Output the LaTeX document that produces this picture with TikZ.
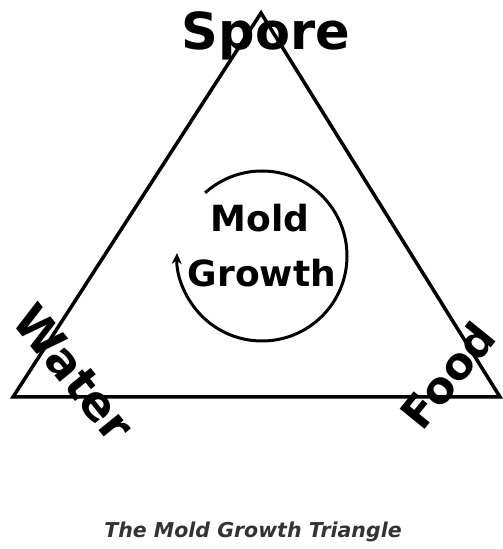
\documentclass[tikz,border=0pt]{standalone}
\usepackage{fontspec}
\setmainfont{DejaVu Sans}
\usetikzlibrary{arrows.meta,calc}
\begin{document}
\begin{tikzpicture}[x=1pt,y=1pt,
  edge/.style={line width=3.5pt,line join=miter,black},
  cyc/.style={line width=3pt,black},
  corner/.style={font=\bfseries\fontsize{47}{47}\selectfont,inner sep=0pt},
  inner/.style={font=\bfseries\fontsize{36}{36}\selectfont,inner sep=0pt,anchor=base},
  caption/.style={font=\bfseries\itshape\fontsize{20.5}{20.5}\selectfont,inner sep=0pt,anchor=base,text=black!80}]
\useasboundingbox (0,0) rectangle (503,549);
\coordinate (apex) at (261,536);
\coordinate (bl) at (13,152);
\coordinate (br) at (500,152);
\coordinate (c) at (262,293);
\draw[edge] (apex) -- (bl) -- (br) -- cycle;
\draw[cyc,-{Stealth[length=11pt,width=10pt]}] ($(c)+(132:85)$) arc[start angle=132,end angle=-182,radius=85];
\node[corner,anchor=base,font=\bfseries\fontsize{51}{51}\selectfont] (spore) at (266,499) {Spore};
\node[inner] (mold) at (260,317) {Mold};
\node[inner] (growth) at (262,262) {Growth};
\node[corner,rotate=-51] (water) at (74,176) {Water};
\node[corner,font=\bfseries\fontsize{44}{44}\selectfont,rotate=51] (food) at (448,174) {Food};
\node[caption] (cap) at (253,12) {The Mold Growth Triangle};
\end{tikzpicture}
\end{document}
